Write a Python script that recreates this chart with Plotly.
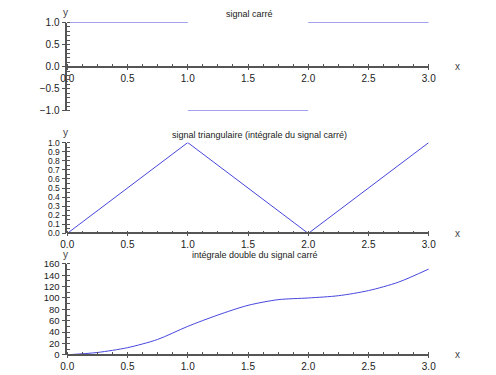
import plotly.graph_objects as go

# Data
square_x = [0, 1, None, 1, 2, None, 2, 3]
square_y = [1, 1, None, -1, -1, None, 1, 1]

tri_x = [0, 1, 2, 3]
tri_y = [0, 1, 0, 1]

dbl_x = [0, 0.25, 0.5, 0.75, 1.0, 1.25, 1.5, 1.75, 2.0, 2.25, 2.5, 2.75, 3.0]
dbl_y = [0, 4, 12.5, 27, 50, 70, 87, 97, 100, 104, 113, 128, 151]

titles = ["signal carré",
          "signal triangulaire (intégrale du signal carré)",
          "intégrale double du signal carré"]

W, H = 496, 375
LINE = "#4646dc"
AX = "#555555"
FONT = "Liberation Sans, Arial, sans-serif"

def py(px):
    return 1 - px / H

fig = go.Figure()
fig.add_trace(go.Scatter(x=square_x, y=square_y, mode="lines", line=dict(color=LINE, width=1),
                         xaxis="x", yaxis="y", connectgaps=False))
fig.add_trace(go.Scatter(x=tri_x, y=tri_y, mode="lines", line=dict(color=LINE, width=1),
                         xaxis="x2", yaxis="y2"))
fig.add_trace(go.Scatter(x=dbl_x, y=dbl_y, mode="lines",
                         line=dict(color=LINE, width=1, shape="spline", smoothing=0.8),
                         xaxis="x3", yaxis="y3"))

xdom = [62 / W, 434 / W]
panels = [
    (17, 108, 62.7, [-1, 1], 0.5, 0.1, ".1f", 10),
    (140.7, 234.3, 234.3, [0, 1], 0.1, 0.05, ".1f", 8.5),
    (265.7, 359.3, 359.3, [0, 160], 20, 10, "d", 9.5),
]

layout = dict(width=W, height=H, margin=dict(l=0, r=0, t=0, b=0),
              paper_bgcolor="white", plot_bgcolor="white", showlegend=False)
annotations = []
for i, (top, bot, xpos, yr, ydt, ymin, fmt, fs) in enumerate(panels):
    sfx = "" if i == 0 else str(i + 1)
    layout["xaxis" + sfx] = dict(
        domain=xdom, range=[0, 3], anchor="free", position=py(xpos),
        showline=True, linecolor=AX, linewidth=1.5, showgrid=False, zeroline=False,
        tickmode="linear", tick0=0, dtick=0.5, tickformat=".1f",
        ticks="outside", ticklen=2, tickcolor=AX,
        tickfont=dict(family=FONT, size=10, color="#222222"),
        minor=dict(dtick=0.125, ticks="inside", ticklen=2, tickcolor=AX),
        fixedrange=True,
    )
    layout["yaxis" + sfx] = dict(
        domain=[py(bot), py(top)], range=yr, anchor="x" + sfx,
        showline=True, linecolor=AX, linewidth=1.5, showgrid=False, zeroline=False,
        tickmode="linear", tick0=yr[0], dtick=ydt, tickformat=fmt,
        ticks="outside", ticklen=4, tickcolor=AX,
        tickfont=dict(family=FONT, size=fs, color="#222222"),
        minor=dict(dtick=ymin, ticks="inside", ticklen=3, tickcolor=AX),
        fixedrange=True,
    )
    annotations.append(dict(x=464 / W, y=py(xpos), xref="paper", yref="paper", text="x",
                            showarrow=False, font=dict(family=FONT, size=10, color="#444444"),
                            xanchor="center", yanchor="middle"))
    annotations.append(dict(x=60 / W, y=py(top - 10), xref="paper", yref="paper", text="y",
                            showarrow=False, font=dict(family=FONT, size=10, color="#444444"),
                            xanchor="center", yanchor="middle"))

title_pos = [(250, 8), (260, 133), (255, 257)]
for t, (tx, ty) in zip(titles, title_pos):
    annotations.append(dict(x=tx / W, y=py(ty), xref="paper", yref="paper", text=t,
                            showarrow=False, font=dict(family=FONT, size=9, color="#222222"),
                            xanchor="center", yanchor="middle"))

layout["annotations"] = annotations
fig.update_layout(**layout)
fig.write_html("out.html", config={"displayModeBar": False},
               post_script="document.body.style.margin='0';document.body.style.overflow='hidden';")
